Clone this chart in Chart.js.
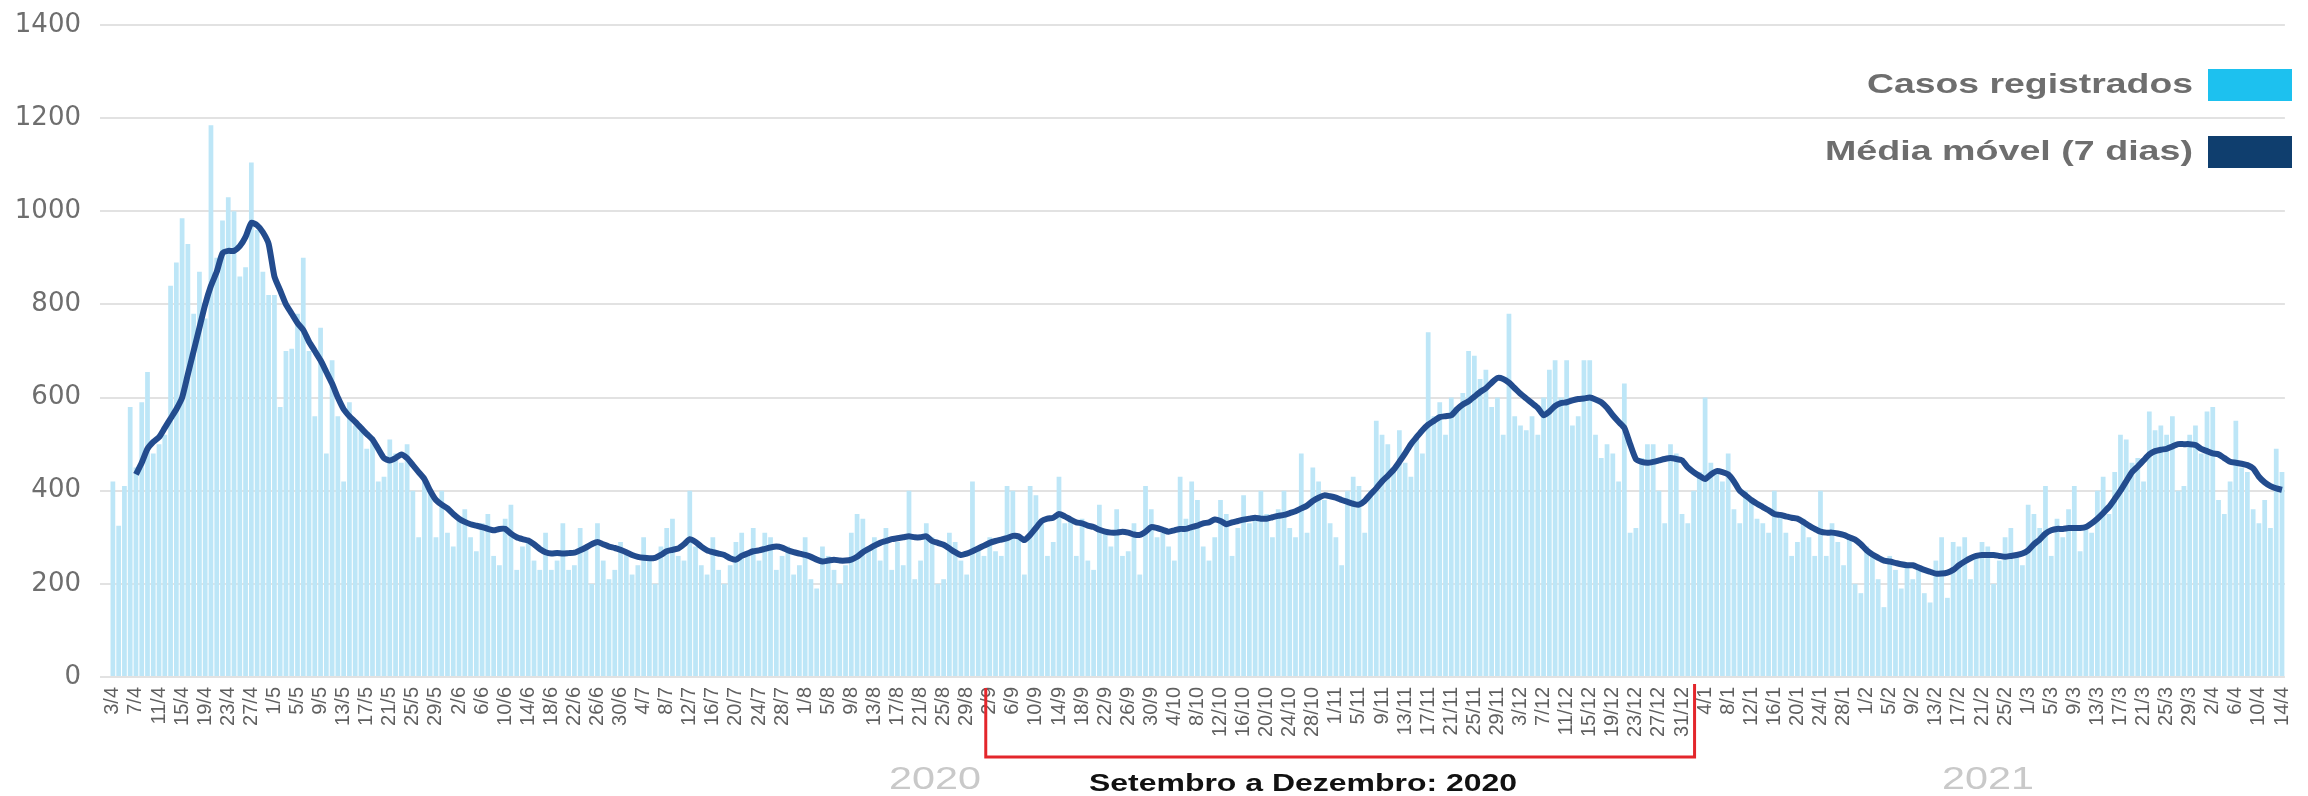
<!DOCTYPE html>
<html lang="pt-BR">
<head>
<meta charset="utf-8">
<title>Casos registrados e média móvel</title>
<script src="https://cdn.jsdelivr.net/npm/chart.js@4.4.1/dist/chart.umd.min.js"></script>
<style>
    html, body { margin: 0; padding: 0; background: #ffffff; }
    #wrap { position: relative; width: 2308px; height: 796px; }
</style>
</head>
<body>
<div id="wrap"><canvas id="chart"></canvas></div>
<script>
// Period covered: 3/4/2020 to 14/4/2021, one bar per day
const monthSpans = [
    // [month, first day, last day]
    [4, 3, 30], [5, 1, 31], [6, 1, 30], [7, 1, 31], [8, 1, 31], [9, 1, 30],
    [10, 1, 31], [11, 1, 30], [12, 1, 31], [1, 1, 31], [2, 1, 28], [3, 1, 31], [4, 1, 14]
];
const labelEvery = 4;
const yTicks = [0, 200, 400, 600, 800, 1000, 1200, 1400];
const yearLabels = ['2020', '2021'];
const seriesNames = ['Casos registrados', 'Média móvel (7 dias)'];
const bracketText = 'Setembro a Dezembro: 2020';

// Daily registered cases (28 days per row)
const cases = [
    420, 325, 410, 580, 450, 590, 655, 480, 500, 520, 840, 890, 985, 930, 780, 870, 770, 1185, 900, 980, 1030, 1000, 860, 880, 1105, 960, 870, 820,
    820, 580, 700, 705, 780, 900, 700, 560, 750, 480, 680, 560, 420, 590, 540, 530, 490, 515, 420, 430, 510, 480, 460, 500, 400, 300, 430, 400,
    300, 400, 310, 280, 340, 360, 300, 270, 330, 350, 260, 240, 340, 370, 230, 280, 290, 250, 230, 310, 230, 250, 330, 230, 240, 320, 280, 200,
    330, 250, 210, 230, 290, 270, 220, 240, 300, 250, 200, 280, 320, 340, 260, 250, 400, 280, 240, 220, 300, 230, 200, 240, 290, 310, 270, 320,
    250, 310, 300, 230, 260, 280, 220, 240, 300, 210, 190, 280, 260, 230, 200, 240, 310, 350, 340, 270, 300, 250, 320, 230, 290, 240, 400, 210,
    250, 330, 300, 200, 210, 310, 290, 250, 220, 420, 280, 260, 300, 270, 260, 410, 400, 300, 220, 410, 390, 330, 260, 290, 430, 330, 340, 260,
    340, 250, 230, 370, 310, 280, 360, 260, 270, 330, 220, 410, 360, 300, 310, 280, 250, 430, 340, 420, 380, 280, 250, 300, 380, 350, 260, 320,
    390, 330, 340, 400, 350, 300, 360, 400, 320, 300, 480, 310, 450, 420, 380, 330, 300, 240, 400, 430, 410, 310, 400, 550, 520, 500, 450, 530,
    460, 430, 520, 480, 740, 560, 590, 520, 600, 580, 610, 700, 690, 640, 660, 580, 600, 520, 780, 560, 540, 530, 560, 520, 600, 660, 680, 600,
    680, 540, 560, 680, 680, 520, 470, 500, 480, 420, 630, 310, 320, 470, 500, 500, 400, 330, 500, 480, 350, 330, 400, 440, 600, 460, 440, 420,
    480, 360, 330, 400, 380, 340, 330, 310, 400, 350, 310, 260, 290, 340, 300, 260, 400, 260, 330, 290, 240, 300, 200, 180, 280, 260, 210, 150,
    260, 230, 190, 240, 210, 230, 180, 160, 250, 300, 170, 290, 280, 300, 210, 260, 290, 280, 200, 250, 300, 320, 260, 240, 370, 350, 320, 410,
    260, 340, 300, 360, 410, 270, 320, 310, 400, 430, 350, 440, 520, 510, 460, 470, 420, 570, 530, 540, 520, 560, 400, 410, 520, 540, 480, 570,
    580, 380, 350, 420, 550, 450, 440, 360, 330, 380, 320, 490, 440
];

// 7-day moving average (line starts on 7/4)
const movingAvg = [
    null, null, null, null,
    435, 460, 490, 505, 515, 535, 555, 575, 600, 650, 700, 750, 800, 840, 870, 910, 915, 915, 925, 945, 975, 970, 955, 930,
    860, 830, 800, 780, 760, 745, 720, 700, 680, 655, 630, 600, 575, 560, 548, 535, 522, 510, 490, 470, 465, 470, 478, 470, 455, 440, 425, 400,
    380, 370, 362, 350, 340, 333, 328, 325, 322, 318, 315, 318, 318, 308, 300, 296, 293, 285, 275, 268, 265, 266, 265, 266, 267, 272, 278, 285,
    290, 285, 280, 277, 273, 268, 262, 258, 256, 255, 256, 262, 270, 273, 276, 285, 296, 290, 280, 272, 268, 265, 262, 255, 252, 260, 265, 270,
    272, 275, 278, 280, 278, 272, 268, 265, 262, 258, 252, 248, 250, 252, 250, 250, 252, 258, 268, 275, 282, 288, 292, 296, 298, 300, 302, 300,
    300, 302, 292, 288, 284, 276, 268, 262, 265, 270, 276, 282, 288, 292, 295, 298, 303, 302, 294, 305, 320, 335, 340, 342, 350, 345, 338, 332,
    330, 325, 322, 316, 312, 310, 310, 312, 310, 306, 305, 312, 322, 320, 316, 312, 315, 318, 318, 322, 325, 330, 332, 338, 335, 328, 332, 335,
    338, 340, 342, 340, 340, 343, 346, 348, 352, 356, 362, 368, 378, 385, 390, 388, 385, 380, 376, 372, 370, 378, 392, 405, 420, 432, 445, 462,
    480, 500, 515, 530, 542, 550, 558, 560, 562, 575, 585, 592, 602, 612, 620, 632, 642, 640, 632, 620, 608, 598, 588, 578, 562, 570, 582, 588,
    590, 594, 597, 598, 600, 596, 590, 578, 562, 548, 535, 500, 468, 462, 460, 462, 465, 468, 470, 468, 465, 450, 440, 432, 425, 435, 442, 440,
    435, 420, 400, 390, 380, 372, 365, 358, 350, 348, 345, 342, 340, 333, 325, 318, 312, 310, 310, 308, 305, 300, 295, 285, 272, 263, 256, 250,
    248, 245, 242, 240, 240, 235, 230, 226, 222, 222, 224, 230, 240, 248, 255, 260, 262, 262, 262, 260, 258, 260, 262, 265, 272, 285, 295, 308,
    315, 318, 318, 320, 320, 320, 322, 330, 340, 352, 365, 382, 400, 420, 440, 452, 465, 478, 485, 488, 490, 495, 500, 500, 500, 498, 490, 485,
    480, 478, 470, 462, 460, 458, 455, 448, 430, 418, 410, 405, 402
];

// Day labels like "3/4"
const days = [];
monthSpans.forEach(([m, first, last]) => {
    for (let d = first; d <= last; d++) days.push(d + '/' + m);
});

const barColor = '#bde6f7';
const lineColor = '#234c8e';
const legendColors = ['#1dc1ef', '#0f3e6e'];
const textGray = '#6e6e6e';

// Draw text squeezed/stretched to a given width (the reference is widened)
function wideText(ctx, text, x, y, font, color, width, align) {
    ctx.save();
    ctx.font = font;
    ctx.fillStyle = color;
    ctx.textBaseline = 'middle';
    const w = ctx.measureText(text).width;
    const k = width / w;
    let left = x;
    if (align === 'center') left = x - width / 2;
    if (align === 'right') left = x - width;
    ctx.translate(left, y);
    ctx.scale(k, 1);
    ctx.textAlign = 'left';
    ctx.fillText(text, 0, 0);
    ctx.restore();
}

const extras = {
    id: 'extras',
    afterDraw(chart) {
        const ctx = chart.ctx;
        const x = chart.scales.x;

        // Legend, top right, box after the text
        const rows = [85, 152];
        rows.forEach((ry, i) => {
            wideText(ctx, seriesNames[i], 2193, ry, 'bold 28px "Liberation Sans", Arial, sans-serif',
                textGray, i === 0 ? 326 : 368, 'right');
            ctx.fillStyle = legendColors[i];
            ctx.fillRect(2208, ry - 16, 84, 32);
        });

        // Red bracket under September to December
        const x0 = x.getPixelForValue(days.indexOf('2/9')) - 4;
        const x1 = x.getPixelForValue(days.indexOf('2/1')) + 1;
        ctx.save();
        ctx.strokeStyle = '#e3262b';
        ctx.lineWidth = 3;
        ctx.beginPath();
        ctx.moveTo(x0, 688);
        ctx.lineTo(x0, 757);
        ctx.lineTo(x1, 757);
        ctx.lineTo(x1, 684);
        ctx.stroke();
        ctx.restore();

        wideText(ctx, bracketText, 1303, 784, 'bold 24px "Liberation Sans", Arial, sans-serif',
            '#111111', 428, 'center');

        // Year marks
        wideText(ctx, yearLabels[0], 935, 780, '32px "Liberation Sans", Arial, sans-serif', '#c9c9c9', 92, 'center');
        wideText(ctx, yearLabels[1], 1988, 780, '32px "Liberation Sans", Arial, sans-serif', '#c9c9c9', 92, 'center');
    }
};

new Chart(document.getElementById('chart'), {
    type: 'bar',
    data: {
        labels: days,
        datasets: [
            {
                type: 'line',
                label: seriesNames[1],
                data: movingAvg,
                borderColor: lineColor,
                borderWidth: 6,
                pointRadius: 0,
                tension: 0.2,
                spanGaps: false,
                order: 0
            },
            {
                label: seriesNames[0],
                data: cases,
                backgroundColor: barColor,
                barPercentage: 0.82,
                categoryPercentage: 1,
                order: 1
            }
        ]
    },
    options: {
        responsive: true,
        maintainAspectRatio: false,
        animation: false,
        layout: { padding: { top: 25, right: 4, left: 0, bottom: 0 } },
        plugins: {
            legend: { display: false },
            tooltip: { enabled: false }
        },
        scales: {
            x: {
                grid: { display: false },
                border: { display: false },
                afterFit: (scale) => { scale.height = 119; },
                ticks: {
                    autoSkip: false,
                    minRotation: 90,
                    maxRotation: 90,
                    padding: 2,
                    color: '#606060',
                    font: { family: '"Liberation Sans", Arial, sans-serif', size: 20 },
                    callback: (value, index) => index % labelEvery === 0 ? days[index] : ''
                }
            },
            y: {
                min: yTicks[0],
                max: yTicks[yTicks.length - 1],
                afterFit: (scale) => {
                    scale.width = 110;
                    // tick padding is only horizontal here, keep the top of the plot at the 1400 line
                    scale.paddingTop = 10;
                    scale.paddingBottom = 10;
                },
                afterBuildTicks: (scale) => { scale.ticks = yTicks.map(v => ({ value: v })); },
                border: { display: false },
                grid: {
                    color: '#e2e2e2',
                    lineWidth: 2,
                    tickLength: 10,
                    tickColor: '#e2e2e2'
                },
                ticks: {
                    padding: 19,
                    color: textGray,
                    font: { family: '"DejaVu Sans", sans-serif', size: 26 },
                    callback: (value) => String(value)
                }
            }
        }
    },
    plugins: [extras]
});
</script>
</body>
</html>
